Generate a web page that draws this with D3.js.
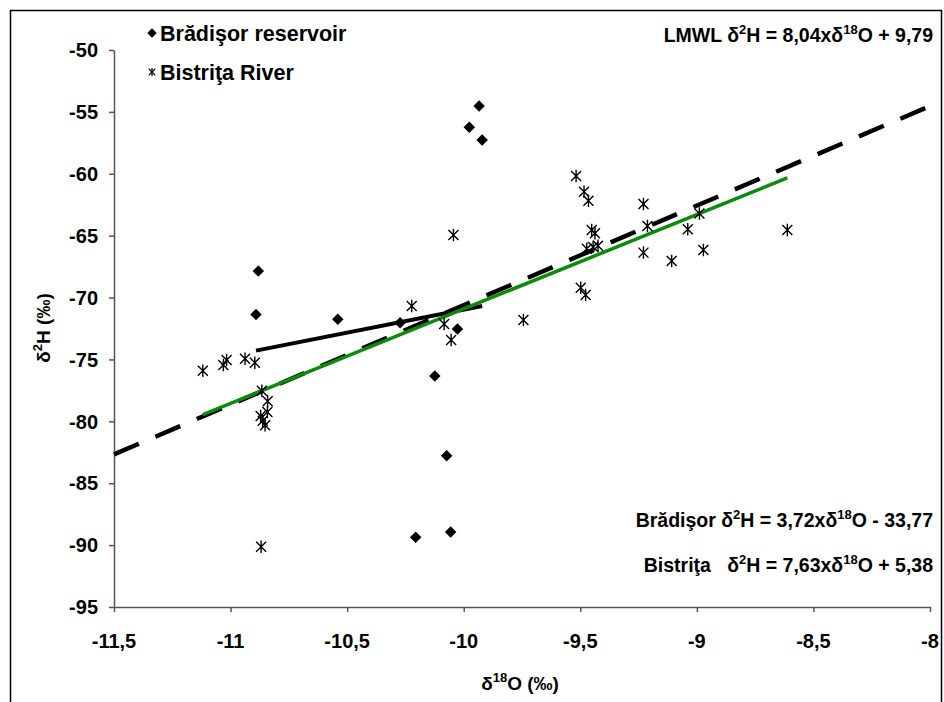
<!DOCTYPE html>
<html>
<head>
<meta charset="UTF-8">
<script src="https://d3js.org/d3.v7.min.js"></script>
<style>
  body { margin: 0; background: #fff; }
  svg text { font-family: Arial, "Liberation Sans", sans-serif; font-weight: bold; fill: #000; }
</style>
</head>
<body>
<svg id="chart" width="944" height="702"></svg>
<script>
// Brădişor reservoir samples (d18O, d2H)
var bradX = [-9.934, -9.976, -9.921, -10.881, -10.891, -10.540, -10.273, -10.027, -10.124, -10.073, -10.206, -10.056];
var bradY = [-54.52, -56.25, -57.27, -67.86, -71.36, -71.76, -72.03, -72.54, -76.34, -82.78, -89.37, -88.94];

// Bistriţa River samples (d18O, d2H)
var bistX = [-11.119, -11.031, -11.017, -10.938, -10.896, -10.866, -10.841, -10.842, -10.871, -10.862, -10.852, -10.869,
             -10.223, -10.084, -10.054, -10.044, -9.744,
             -9.518, -9.484, -9.465, -9.229, -9.451, -9.437, -9.472, -9.445, -9.424, -9.212, -9.229,
             -9.108, -9.039, -8.989, -8.972, -9.498, -9.477, -8.612];
var bistY = [-75.91, -75.45, -75.04, -74.94, -75.26, -77.52, -78.38, -79.25, -79.57, -79.95, -80.32, -90.13,
             -70.68, -72.14, -73.43, -64.95, -71.81,
             -60.18, -61.45, -62.17, -62.44, -64.54, -64.81, -66.05, -65.92, -65.81, -64.22, -66.37,
             -67.05, -64.49, -63.20, -66.16, -69.20, -69.79, -64.54];

// regression lines: slope, intercept, x from, x to
var lmwlLine = [8.04, 9.79, -11.5, -8];
var bradLine = [3.72, -33.77, -10.891, -9.921];
var bistLine = [7.63, 5.38, -11.119, -8.612];

var xTicks = [-11.5, -11, -10.5, -10, -9.5, -9, -8.5, -8];
var yTicks = [-50, -55, -60, -65, -70, -75, -80, -85, -90, -95];

var svg = d3.select("#chart");

// cadre
svg.append("rect")
  .attr("x", 10.5).attr("y", 10.5)
  .attr("width", 931).attr("height", 700)
  .attr("fill", "none").attr("stroke", "#000").attr("stroke-width", 1.5);

var x = d3.scaleLinear().domain([-11.5, -8]).range([114, 930]);
var y = d3.scaleLinear().domain([-95, -50]).range([607, 50]);

var fmt = function(v) { return String(v).replace(".", ","); };

// axe des ordonnées (étiquettes dessinées à part pour garder le gras)
var gy = svg.append("g")
  .attr("transform", "translate(114,0)")
  .call(d3.axisLeft(y).tickValues(yTicks).tickSize(5).tickSizeOuter(0).tickFormat(""));
gy.select(".domain").attr("stroke", "#555").attr("stroke-width", 1.5);
gy.selectAll(".tick line").attr("stroke", "#555").attr("stroke-width", 1.5);
svg.append("g").selectAll("text")
  .data(yTicks)
  .enter().append("text")
    .attr("x", 98)
    .attr("y", function(d) { return y(d); })
    .attr("dy", "0.36em")
    .attr("text-anchor", "end")
    .style("font-size", "20px")
    .text(fmt);

// axe des abscisses
var gx = svg.append("g")
  .attr("transform", "translate(0,607)")
  .call(d3.axisBottom(x).tickValues(xTicks).tickSize(5).tickSizeOuter(0).tickFormat(""));
gx.select(".domain").attr("stroke", "#555").attr("stroke-width", 1.5);
gx.selectAll(".tick line").attr("stroke", "#555").attr("stroke-width", 1.5);
svg.append("g").selectAll("text")
  .data(xTicks)
  .enter().append("text")
    .attr("x", function(d) { return x(d); })
    .attr("y", 648)
    .attr("text-anchor", "middle")
    .style("font-size", "20px")
    .text(fmt);

// droites
function seg(p) {
  return [[p[2], p[0] * p[2] + p[1]], [p[3], p[0] * p[3] + p[1]]];
}
var line = d3.line().x(function(d) { return x(d[0]); }).y(function(d) { return y(d[1]); });

svg.append("path").datum(seg(bradLine)).attr("d", line)
  .attr("stroke", "#000").attr("stroke-width", 4).attr("fill", "none");
svg.append("path").datum(seg(lmwlLine)).attr("d", line)
  .attr("stroke", "#000").attr("stroke-width", 4.5).attr("stroke-dasharray", "27,18").attr("fill", "none");
svg.append("path").datum(seg(bistLine)).attr("d", line)
  .attr("stroke", "#0b8a0b").attr("stroke-width", 3.5).attr("fill", "none");

// marqueurs
var diamond = d3.symbol().type(d3.symbolSquare).size(66);
function star(s) {
  return "M" + (-s) + "," + (-s) + "L" + s + "," + s +
         "M" + (-s) + "," + s + "L" + s + "," + (-s) +
         "M0," + (-s * 1.25) + "L0," + (s * 1.25);
}

svg.append("g").selectAll("path")
  .data(bistX)
  .enter().append("path")
    .attr("d", star(5))
    .attr("transform", function(d, i) { return "translate(" + x(d) + "," + y(bistY[i]) + ")"; })
    .attr("stroke", "#000").attr("stroke-width", 1.4).attr("fill", "none");

svg.append("g").selectAll("path")
  .data(bradX)
  .enter().append("path")
    .attr("d", diamond)
    .attr("transform", function(d, i) { return "translate(" + x(d) + "," + y(bradY[i]) + ") rotate(45)"; })
    .attr("fill", "#000");

// légende
svg.append("path").attr("d", d3.symbol().type(d3.symbolSquare).size(44))
  .attr("transform", "translate(152,33) rotate(45)").attr("fill", "#000");
svg.append("text").attr("x", 160).attr("y", 41).style("font-size", "21.5px").text("Brădişor reservoir");
svg.append("path").attr("d", star(3.3))
  .attr("transform", "translate(152,72)").attr("stroke", "#000").attr("stroke-width", 1.2).attr("fill", "none");
svg.append("text").attr("x", 160).attr("y", 80).style("font-size", "21.5px").text("Bistriţa River");

// texte avec exposants
function rich(t, parts, big, small) {
  var up = false;
  parts.forEach(function(p, i) {
    if (i % 2 === 1) {
      t.append("tspan").attr("dy", -8).style("font-size", small + "px").text(p);
      up = true;
    } else {
      var s = t.append("tspan").style("font-size", big + "px").text(p);
      if (up) { s.attr("dy", 8); up = false; }
    }
  });
  return t;
}
function equation(xr, yb, parts) {
  rich(svg.append("text").attr("x", xr).attr("y", yb).attr("text-anchor", "end"), parts, 19.5, 13);
}
equation(933, 42, ["LMWL δ", "2", "H = 8,04xδ", "18", "O + 9,79"]);
equation(933, 527, ["Brădişor δ", "2", "H = 3,72xδ", "18", "O - 33,77"]);
equation(933, 572, ["Bistriţa\u00a0\u00a0\u00a0δ", "2", "H = 7,63xδ", "18", "O + 5,38"]);

// titres des axes
rich(svg.append("text").attr("x", 520).attr("y", 690).attr("text-anchor", "middle"),
  ["δ", "18", "O (‰)"], 19, 13);
rich(svg.append("text").attr("transform", "translate(50,328) rotate(-90)").attr("text-anchor", "middle"),
  ["δ", "2", "H (‰)"], 19, 13);
</script>
</body>
</html>
